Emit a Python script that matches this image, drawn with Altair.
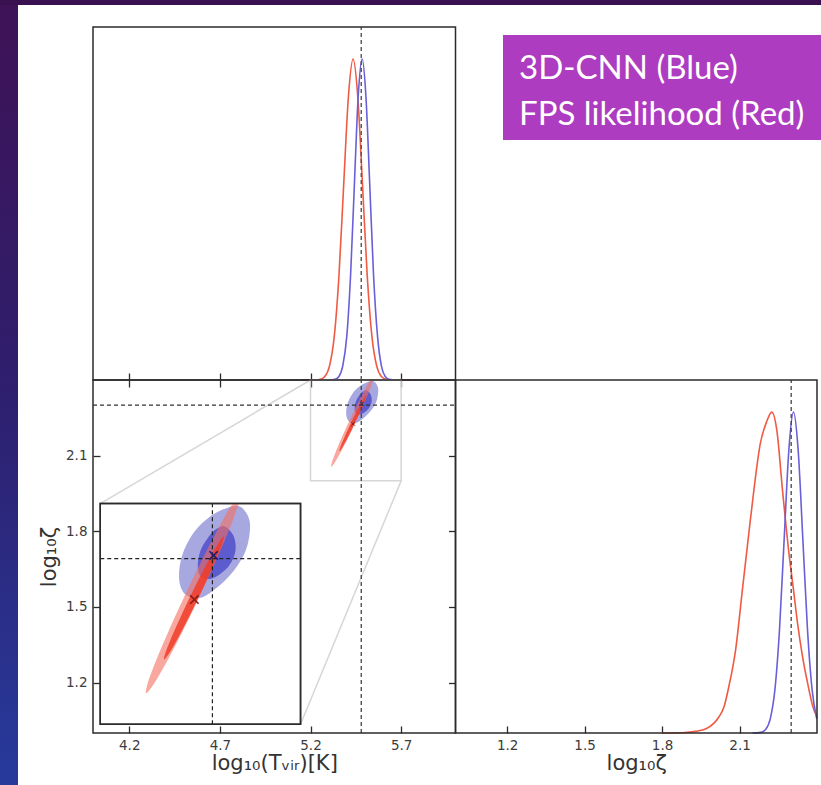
import altair as alt
import pandas as pd

# ---------------- data ----------------
TVIR_TRUE = 5.48
ZETA_TRUE = 2.30
TVIR_DOMAIN = [4.0, 6.0]
ZETA_DOMAIN = [1.0, 2.4]
PDF_DOMAIN = [0.0, 1.1]
TVIR_TICKS = [4.2, 4.7, 5.2, 5.7]
ZETA_TICKS = [1.2, 1.5, 1.8, 2.1]
INSET_TVIR = [5.2, 5.7]
INSET_ZETA = [2.0, 2.4]

# 1D marginal of log10(Tvir)
red_tvir_x = [5.15, 5.227, 5.253, 5.279, 5.305, 5.331, 5.357, 5.383, 5.409, 5.435,
              5.461, 5.487, 5.513, 5.539, 5.565, 5.591, 5.617, 5.643, 5.75]
red_tvir_p = [0.0, 0.0003, 0.002, 0.011, 0.044, 0.135, 0.325, 0.607, 0.882, 1.0,
              0.882, 0.607, 0.325, 0.135, 0.044, 0.011, 0.002, 0.0003, 0.0]
blue_tvir_x = [5.30, 5.315, 5.336, 5.357, 5.378, 5.400, 5.421, 5.442, 5.463, 5.485,
               5.506, 5.527, 5.548, 5.570, 5.591, 5.612, 5.633, 5.655, 5.68]
blue_tvir_p = [0.0, 0.0003, 0.002, 0.011, 0.044, 0.135, 0.325, 0.607, 0.882, 1.0,
               0.882, 0.607, 0.325, 0.135, 0.044, 0.011, 0.002, 0.0003, 0.0]

# 1D marginal of log10(zeta)
red_zeta_x = [1.80, 1.88, 1.93, 1.97, 2.00, 2.02, 2.04, 2.06, 2.085, 2.111, 2.13, 2.156,
              2.18, 2.205, 2.225, 2.245, 2.266, 2.29, 2.309, 2.325, 2.344, 2.365, 2.383, 2.40]
red_zeta_p = [0.0, 0.001, 0.005, 0.013, 0.03, 0.05, 0.082, 0.15, 0.26, 0.446, 0.58, 0.76,
              0.90, 0.97, 1.0, 0.94, 0.76, 0.57, 0.446, 0.34, 0.238, 0.15, 0.085, 0.05]
blue_zeta_x = [2.15, 2.165, 2.183, 2.201, 2.219, 2.237, 2.255, 2.273, 2.291, 2.309,
               2.327, 2.345, 2.363, 2.381, 2.399]
blue_zeta_p = [0.0, 0.0003, 0.002, 0.011, 0.044, 0.135, 0.325, 0.607, 0.882, 1.0,
               0.882, 0.607, 0.325, 0.135, 0.044]

# 2D credible contours (outlines)
blue_outer_t = [5.550, 5.573, 5.567, 5.542, 5.500, 5.450, 5.413, 5.397, 5.404, 5.433, 5.475, 5.517]
blue_outer_z = [2.394, 2.368, 2.323, 2.287, 2.253, 2.229, 2.235, 2.262, 2.305, 2.347, 2.377, 2.392]
blue_inner_t = [5.5125, 5.533, 5.5375, 5.521, 5.4875, 5.458, 5.444, 5.450, 5.475, 5.496]
blue_inner_z = [2.358, 2.341, 2.314, 2.287, 2.267, 2.264, 2.281, 2.314, 2.344, 2.356]
red_outer_t = [5.315, 5.3184, 5.3364, 5.3568, 5.384, 5.4125, 5.4422, 5.4733, 5.4994, 5.5281,
               5.548, 5.5447, 5.5266, 5.5063, 5.479, 5.4505, 5.4208, 5.3898, 5.3636, 5.335]
red_outer_z = [2.056, 2.074, 2.1099, 2.1458, 2.1906, 2.2355, 2.2804, 2.3253, 2.3612, 2.397,
               2.415, 2.397, 2.3612, 2.3253, 2.2804, 2.2355, 2.1906, 2.1458, 2.1099, 2.074]
red_inner_t = [5.3598, 5.3624, 5.3742, 5.3874, 5.4049, 5.423, 5.4419, 5.4616, 5.4781, 5.496,
               5.5082, 5.5056, 5.4938, 5.4806, 5.4632, 5.445, 5.4262, 5.4064, 5.390, 5.372]
red_inner_z = [2.1174, 2.1286, 2.1509, 2.1732, 2.2011, 2.229, 2.2569, 2.2848, 2.3071, 2.3294,
               2.3406, 2.3294, 2.3071, 2.2848, 2.2569, 2.229, 2.2011, 2.1732, 2.1509, 2.1286]
best_t = [5.483, 5.435]
best_z = [2.306, 2.226]
best_who = ["blue", "red"]

LEGEND_LINES = ["3D-CNN (Blue)", "FPS likelihood (Red)"]
TITLE_TVIR = "log₁₀(Tᵥᵢᵣ)[K]"
TITLE_ZETA = "log₁₀ζ"

# ---------------- layout (pixels) ----------------
W, H = 821, 785
LX = [93.0, 455.5]
RX = [455.5, 817.0]
TY = [380.0, 27.0]
BY = [733.0, 380.0]
INSET_AT_TVIR = [4.04, 5.145]   # inset placement in main-panel data units
INSET_AT_ZETA = [1.035, 1.91]


def px_t(v):
    return LX[0] + (v - TVIR_DOMAIN[0]) / (TVIR_DOMAIN[1] - TVIR_DOMAIN[0]) * (LX[1] - LX[0])


def py_z(v):
    return BY[0] + (v - ZETA_DOMAIN[0]) / (ZETA_DOMAIN[1] - ZETA_DOMAIN[0]) * (BY[1] - BY[0])


IN_X = [px_t(a) for a in INSET_AT_TVIR]
IN_Y = [py_z(a) for a in INSET_AT_ZETA]


def S(domain, rng):
    return alt.Scale(domain=domain, range=rng, nice=False, zero=False)


sxT = S(TVIR_DOMAIN, LX)
syZ = S(ZETA_DOMAIN, BY)
sxZ = S(ZETA_DOMAIN, RX)
syPT = S(PDF_DOMAIN, TY)
syPZ = S(PDF_DOMAIN, BY)
sxI = S(INSET_TVIR, IN_X)
syI = S(INSET_ZETA, IN_Y)


def X(f, s):
    return alt.X(f, type="quantitative", scale=s, axis=None)


def Y(f, s):
    return alt.Y(f, type="quantitative", scale=s, axis=None)


RED = "#ef5a43"
BLUE = "#6a5fd8"
FRAME = "#2b2b2b"
ONE = pd.DataFrame({"k": [0]})


def curve(xs, ps, sx, sy, color):
    df = pd.DataFrame({"x": xs, "p": ps})
    return alt.Chart(df).mark_line(color=color, strokeWidth=1.6, interpolate="monotone").encode(
        x=X("x", sx), y=Y("p", sy))


def poly(xs, ys, sx, sy, fill, op, ymax):
    df = pd.DataFrame({"x": xs, "y": ys, "i": list(range(len(xs)))})
    return (alt.Chart(df)
            .transform_calculate(yc=f"min(datum.y, {ymax})")
            .mark_line(interpolate="cardinal-closed", fill=fill, fillOpacity=op,
                       stroke=fill, strokeOpacity=0, strokeWidth=0)
            .encode(x=X("x", sx), y=Y("yc", sy), order=alt.Order("i:Q")))


def contours(sx, sy, ymax):
    return [
        poly(blue_outer_t, blue_outer_z, sx, sy, "#6e6ecd", 0.6, ymax),
        poly(blue_inner_t, blue_inner_z, sx, sy, "#3c3cc8", 0.7, ymax),
        poly(red_outer_t, red_outer_z, sx, sy, "#f56e5f", 0.6, ymax),
        poly(red_inner_t, red_inner_z, sx, sy, "#f03c28", 0.85, ymax),
    ]


def seg(x0, x1, y0, y1, sx, sy, color, width, dash=None):
    df = pd.DataFrame({"x": [x0], "x2": [x1], "y": [y0], "y2": [y1]})
    kw = dict(color=color, strokeWidth=width)
    if dash:
        kw["strokeDash"] = dash
    return alt.Chart(df).mark_rule(**kw).encode(
        x=X("x", sx), x2=alt.X2("x2"), y=Y("y", sy), y2=alt.Y2("y2"))


def box(x0, x1, y0, y1, sx, sy, stroke, width, fill=None):
    df = pd.DataFrame({"x": [x0], "x2": [x1], "y": [y0], "y2": [y1]})
    if fill:
        mk = alt.Chart(df).mark_rect(fill=fill, stroke=stroke, strokeWidth=width)
    else:
        mk = alt.Chart(df).mark_rect(fillOpacity=0, stroke=stroke, strokeWidth=width)
    return mk.encode(x=X("x", sx), x2=alt.X2("x2"), y=Y("y", sy), y2=alt.Y2("y2"))


def crosses(sx, sy, size, width):
    df = pd.DataFrame({"x": best_t, "y": best_z, "who": best_who})
    return alt.Chart(df).mark_point(shape="M-1,-1L1,1M-1,1L1,-1", filled=False,
                                    size=size, strokeWidth=width, opacity=1).encode(
        x=X("x", sx), y=Y("y", sy),
        color=alt.Color("who:N", scale=alt.Scale(domain=["blue", "red"],
                                                 range=["#1c1c70", "#8a1c1c"]), legend=None))


AX = dict(grid=False, domain=False, labelFont="DejaVu Sans", labelFontSize=13.5,
          labelColor="#3c3c3c", tickColor=FRAME, tickWidth=1.3, titleFont="DejaVu Sans",
          titleFontWeight="normal", titleColor="#333333")


def axis_x(scale, values, **kw):
    df = pd.DataFrame({"v": values})
    return alt.Chart(df).mark_point(opacity=0).encode(
        x=alt.X("v", type="quantitative", scale=scale, axis=alt.Axis(values=values, **AX, **kw)))


def axis_y(scale, values, **kw):
    df = pd.DataFrame({"v": values})
    return alt.Chart(df).mark_point(opacity=0).encode(
        y=alt.Y("v", type="quantitative", scale=scale, axis=alt.Axis(values=values, **AX, **kw)))


layers = []

# slide background strips
layers.append(alt.Chart(ONE).mark_rect(
    fill=alt.LinearGradient(gradient="linear", x1=0, x2=0, y1=0, y2=1,
                            stops=[alt.GradientStop(color="#3f1256", offset=0),
                                   alt.GradientStop(color="#2e1f6e", offset=0.5),
                                   alt.GradientStop(color="#273a9c", offset=1)])).encode(
    x=alt.value(0), x2=alt.value(18), y=alt.value(0), y2=alt.value(H)))
layers.append(alt.Chart(ONE).mark_rect(color="#3a1150").encode(
    x=alt.value(0), x2=alt.value(W), y=alt.value(0), y2=alt.value(5)))

# legend box
layers.append(alt.Chart(ONE).mark_rect(color="#ad3cc0").encode(
    x=alt.value(503), x2=alt.value(W), y=alt.value(35), y2=alt.value(140)))
for txt, yy in zip(LEGEND_LINES, [79, 125]):
    layers.append(alt.Chart(ONE).mark_text(align="left", baseline="alphabetic", font="Lato",
                                           fontSize=33, color="white").encode(
        x=alt.value(519), y=alt.value(yy), text=alt.value(txt)))

# ---- top-left: Tvir marginal ----
layers.append(curve(red_tvir_x, red_tvir_p, sxT, syPT, RED))
layers.append(curve(blue_tvir_x, blue_tvir_p, sxT, syPT, BLUE))
layers.append(seg(TVIR_TRUE, TVIR_TRUE, PDF_DOMAIN[0], PDF_DOMAIN[1], sxT, syPT, "#555555", 1.4, [4, 3]))
layers.append(box(TVIR_DOMAIN[0], TVIR_DOMAIN[1], PDF_DOMAIN[0], PDF_DOMAIN[1], sxT, syPT, FRAME, 1.5))

# ---- bottom-right: zeta marginal ----
layers.append(curve(red_zeta_x, red_zeta_p, sxZ, syPZ, RED))
layers.append(curve(blue_zeta_x, blue_zeta_p, sxZ, syPZ, BLUE))
layers.append(seg(ZETA_TRUE, ZETA_TRUE, PDF_DOMAIN[0], PDF_DOMAIN[1], sxZ, syPZ, "#444444", 1.3, [4, 3]))
layers.append(box(ZETA_DOMAIN[0], ZETA_DOMAIN[1], PDF_DOMAIN[0], PDF_DOMAIN[1], sxZ, syPZ, FRAME, 1.5))

# ---- bottom-left: joint ----
layers.append(box(INSET_TVIR[0], INSET_TVIR[1], INSET_ZETA[0], INSET_ZETA[1], sxT, syZ, "#d6d6d6", 1.5))
layers.append(seg(INSET_TVIR[0], INSET_AT_TVIR[0], INSET_ZETA[1], INSET_AT_ZETA[1], sxT, syZ, "#d6d6d6", 1.5))
layers.append(seg(INSET_TVIR[1], INSET_AT_TVIR[1], INSET_ZETA[0], INSET_AT_ZETA[0], sxT, syZ, "#d6d6d6", 1.5))
layers += contours(sxT, syZ, ZETA_DOMAIN[1])
layers.append(crosses(sxT, syZ, 14, 1.0))
layers.append(seg(TVIR_TRUE, TVIR_TRUE, ZETA_DOMAIN[0], ZETA_DOMAIN[1], sxT, syZ, "#444444", 1.3, [4, 3]))
layers.append(seg(TVIR_DOMAIN[0], TVIR_DOMAIN[1], ZETA_TRUE, ZETA_TRUE, sxT, syZ, "#333333", 1.3, [4, 3]))
layers.append(box(TVIR_DOMAIN[0], TVIR_DOMAIN[1], ZETA_DOMAIN[0], ZETA_DOMAIN[1], sxT, syZ, FRAME, 1.5))

# ---- inset ----
layers.append(box(INSET_TVIR[0], INSET_TVIR[1], INSET_ZETA[0], INSET_ZETA[1], sxI, syI, FRAME, 1.5, fill="white"))
layers += contours(sxI, syI, INSET_ZETA[1])
layers.append(seg(TVIR_TRUE, TVIR_TRUE, INSET_ZETA[0], INSET_ZETA[1], sxI, syI, "#222222", 1.2, [4, 3]))
layers.append(seg(INSET_TVIR[0], INSET_TVIR[1], ZETA_TRUE, ZETA_TRUE, sxI, syI, "#222222", 1.2, [4, 3]))
layers.append(crosses(sxI, syI, 70, 1.6))
layers.append(box(INSET_TVIR[0], INSET_TVIR[1], INSET_ZETA[0], INSET_ZETA[1], sxI, syI, FRAME, 1.5))

# ---- axes ----
TICK = dict(labels=False, ticks=True, tickSize=7, title=None)
# bottom-left x axis
layers.append(axis_x(sxT, TVIR_TICKS, orient="bottom", offset=BY[0] - H, ticks=False, tickSize=0,
                     labelPadding=5, format=".1f", title=TITLE_TVIR, titleFontSize=21, titlePadding=1))
layers.append(axis_x(sxT, TVIR_TICKS, orient="top", offset=-BY[0], **TICK))
layers.append(axis_x(sxT, TVIR_TICKS, orient="bottom", offset=BY[1] - H, **TICK))
layers.append(axis_x(sxT, TVIR_TICKS, orient="top", offset=-TY[0], **TICK))
# bottom-left y axis
layers.append(axis_y(syZ, ZETA_TICKS, orient="left", offset=-LX[0], ticks=False, tickSize=0,
                     labelPadding=6, format=".1f", title=TITLE_ZETA, titleFontSize=21, titlePadding=6))
layers.append(axis_y(syZ, ZETA_TICKS, orient="right", offset=LX[0] - W, **TICK))
layers.append(axis_y(syZ, ZETA_TICKS, orient="left", offset=-LX[1], **TICK))
# bottom-right x axis
layers.append(axis_x(sxZ, ZETA_TICKS, orient="bottom", offset=BY[0] - H, ticks=False, tickSize=0,
                     labelPadding=5, format=".1f", title=TITLE_ZETA, titleFontSize=21, titlePadding=1))
layers.append(axis_x(sxZ, ZETA_TICKS, orient="top", offset=-BY[0], **TICK))

chart = (alt.layer(*layers)
         .resolve_scale(x="independent", y="independent", color="independent")
         .properties(width=W, height=H, padding=0,
                     autosize=alt.AutoSizeParams(type="none"), background="white")
         .configure_view(stroke=None))

chart.save("out.html", embed_options={"renderer": "svg", "actions": False})
